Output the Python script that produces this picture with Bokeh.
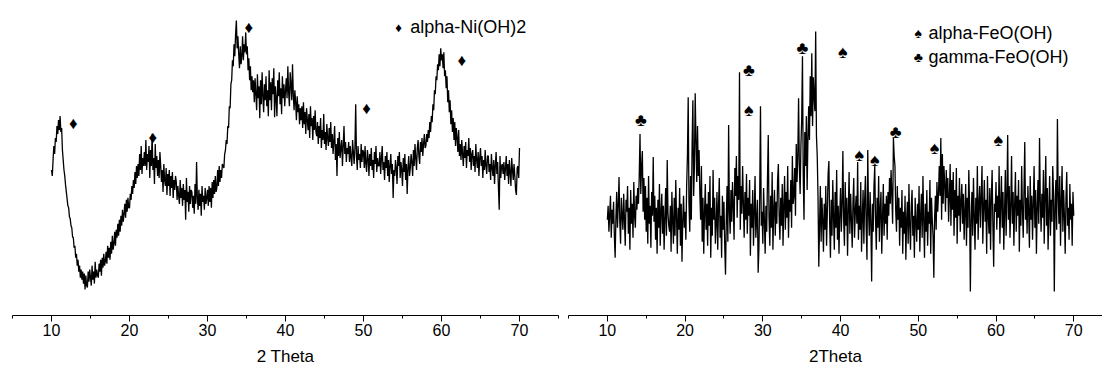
from bokeh.plotting import figure
from bokeh.models import Range1d, SingleIntervalTicker, ColumnDataSource, Label
from bokeh.layouts import row
from bokeh.embed import file_html
from bokeh.resources import INLINE
from bokeh.core.properties import value

FONT = "Liberation Sans"

# 2-theta scan grid (degrees)
two_theta_start = 10.0
two_theta_step = 0.1

# Left pattern: alpha-Ni(OH)2 sample (intensity, a.u.), 10.0 ... 70.0
ni_intensity = [
    146, 140, 156, 170, 162, 178, 174, 190, 182, 196, 186, 200, 184, 188, 166, 156, 146, 140, 131, 124,
    117, 110, 108, 99, 97, 90, 88, 79, 78, 68, 70, 58, 62, 50, 56, 44, 50, 38, 46, 36,
    44, 32, 42, 26, 40, 30, 28, 44, 34, 46, 38, 30, 50, 36, 44, 32, 54, 38, 46, 40,
    38, 52, 44, 56, 40, 58, 48, 62, 50, 54, 64, 52, 70, 58, 68, 56, 74, 62, 80, 66,
    72, 84, 70, 86, 78, 92, 80, 96, 84, 100, 90, 106, 94, 102, 112, 98, 116, 104, 118, 108,
    108, 122, 116, 130, 122, 136, 128, 144, 132, 150, 138, 152, 140, 162, 146, 170, 142, 158, 150, 164,
    150, 176, 146, 162, 154, 170, 138, 166, 150, 182, 146, 158, 132, 172, 148, 160, 140, 156, 138, 164,
    150, 134, 146, 124, 152, 136, 130, 148, 121, 142, 130, 146, 120, 140, 128, 144, 118, 136, 126, 140,
    134, 116, 130, 120, 112, 136, 118, 128, 110, 132, 116, 126, 96, 138, 114, 124, 104, 130, 112, 126,
    124, 108, 120, 102, 132, 112, 154, 118, 106, 126, 110, 122, 100, 130, 114, 120, 106, 128, 112, 118,
    126, 110, 130, 114, 128, 108, 134, 118, 136, 122, 140, 124, 128, 146, 130, 150, 134, 146, 138, 152,
    150, 148, 162, 166, 176, 172, 190, 188, 210, 208, 232, 236, 256, 250, 272, 260, 282, 296, 268, 280,
    262, 248, 270, 252, 260, 280, 256, 272, 264, 284, 262, 270, 246, 258, 236, 250, 226, 240, 224, 236,
    214, 238, 222, 206, 242, 218, 230, 198, 236, 212, 244, 220, 204, 232, 216, 240, 210, 226, 200, 246,
    216, 234, 206, 238, 222, 248, 199, 230, 218, 200, 236, 220, 244, 212, 228, 202, 240, 218, 232, 210,
    226, 238, 218, 250, 224, 210, 244, 232, 216, 252, 222, 206, 226, 214, 196, 220, 204, 212, 192, 208,
    196, 210, 188, 214, 192, 204, 182, 208, 196, 186, 202, 178, 210, 190, 198, 176, 200, 186, 206, 184,
    180, 194, 172, 190, 178, 198, 168, 186, 176, 202, 172, 184, 166, 192, 178, 170, 188, 174, 194, 168,
    182, 162, 176, 190, 156, 172, 140, 178, 160, 184, 158, 168, 176, 150, 170, 190, 162, 174, 154, 168,
    162, 174, 154, 170, 158, 150, 176, 164, 152, 168, 212, 160, 146, 170, 156, 162, 148, 172, 154, 166,
    164, 148, 170, 152, 144, 166, 158, 140, 162, 150, 168, 146, 156, 138, 164, 152, 170, 144, 158, 150,
    150, 164, 142, 158, 170, 146, 154, 136, 160, 148, 164, 140, 156, 134, 150, 162, 142, 152, 118, 146,
    140, 156, 148, 132, 160, 150, 164, 138, 154, 146, 130, 158, 144, 162, 136, 152, 122, 148, 160, 140,
    148, 162, 154, 140, 166, 150, 172, 158, 146, 168, 176, 160, 152, 174, 164, 178, 160, 172, 182, 168,
    170, 182, 174, 186, 178, 194, 184, 200, 194, 212, 206, 226, 222, 240, 236, 252, 246, 262, 250, 268,
    256, 262, 248, 264, 240, 246, 228, 240, 214, 226, 204, 216, 192, 206, 184, 198, 176, 194, 170, 188,
    178, 164, 186, 160, 172, 156, 176, 162, 150, 170, 158, 174, 148, 166, 160, 178, 154, 168, 146, 162,
    166, 150, 160, 144, 172, 156, 148, 164, 140, 158, 168, 150, 160, 138, 156, 146, 166, 150, 142, 160,
    160, 144, 152, 136, 162, 148, 140, 156, 132, 150, 164, 142, 154, 128, 106, 160, 138, 150, 152, 142,
    154, 136, 148, 160, 140, 152, 132, 156, 144, 130, 158, 146, 136, 152, 140, 126, 121, 148, 150, 138,
    168,
]

# Right pattern: FeO(OH) sample (intensity, a.u.), 10.0 ... 70.0
fe_intensity = [
    96, 110, 84, 102, 120, 78, 106, 92, 114, 80, 58, 98, 124, 88, 110, 139, 94, 72, 118, 100,
    86, 122, 96, 70, 116, 104, 130, 82, 108, 66, 126, 92, 112, 78, 134, 100, 88, 120, 106, 128,
    112, 140, 182, 122, 150, 165, 104, 138, 96, 130, 84, 118, 72, 140, 92, 110, 68, 124, 100, 159,
    94, 120, 76, 108, 62, 116, 88, 132, 70, 104, 122, 82, 110, 66, 98, 128, 80, 156, 102, 90,
    84, 110, 64, 124, 96, 72, 118, 80, 136, 98, 62, 108, 86, 128, 70, 112, 54, 96, 120, 88,
    104, 76, 130, 160, 219, 112, 84, 140, 96, 170, 216, 120, 150, 223, 176, 134, 190, 140, 166, 122,
    96, 150, 74, 118, 62, 104, 132, 86, 112, 70, 124, 90, 140, 58, 108, 80, 146, 96, 118, 72,
    92, 124, 66, 110, 138, 78, 100, 58, 120, 86, 114, 70, 41, 96, 130, 74, 191, 104, 82, 126,
    94, 134, 110, 76, 148, 120, 160, 98, 140, 116, 244, 86, 130, 102, 150, 112, 78, 124, 96, 142,
    82, 118, 100, 136, 60, 112, 88, 126, 70, 104, 140, 78, 96, 116, 43, 68, 122, 210, 90, 104,
    72, 128, 96, 62, 110, 84, 138, 181, 98, 70, 120, 88, 144, 66, 106, 126, 80, 114, 92, 136,
    152, 100, 76, 118, 90, 132, 70, 110, 140, 86, 124, 98, 150, 78, 116, 104, 136, 88, 160, 112,
    120, 148, 100, 172, 134, 160, 218, 150, 122, 170, 196, 260, 140, 96, 184, 150, 200, 126, 176, 210,
    176, 240, 200, 263, 190, 239, 220, 205, 285, 180, 160, 120, 49, 92, 130, 74, 118, 96, 64, 112,
    86, 130, 70, 104, 142, 155, 92, 58, 116, 80, 136, 98, 66, 124, 88, 146, 76, 110, 62, 102,
    128, 84, 112, 165, 96, 70, 134, 90, 118, 60, 106, 144, 82, 122, 96, 68, 114, 138, 78, 104,
    120, 92, 154, 76, 110, 86, 134, 64, 98, 126, 72, 116, 140, 88, 56, 166, 104, 80, 124, 94,
    34, 112, 84, 130, 150, 96, 66, 118, 88, 140, 74, 106, 124, 62, 98, 132, 80, 112, 92, 120,
    76, 124, 100, 138, 112, 146, 120, 92, 178, 160, 150, 104, 84, 130, 96, 118, 70, 108, 88, 126,
    62, 104, 82, 120, 56, 96, 114, 72, 132, 90, 66, 110, 126, 80, 100, 58, 118, 94, 74, 112,
    86, 130, 64, 100, 122, 78, 140, 96, 58, 112, 84, 126, 70, 104, 92, 136, 62, 118, 96, 80,
    38, 98, 120, 86, 134, 104, 122, 150, 120, 178, 96, 162, 112, 150, 132, 104, 146, 118, 138, 94,
    118, 152, 90, 136, 106, 144, 80, 126, 98, 148, 72, 120, 100, 138, 84, 114, 132, 92, 122, 76,
    104, 132, 70, 118, 88, 146, 110, 24, 96, 124, 80, 138, 100, 66, 118, 92, 150, 76, 112, 130,
    88, 120, 150, 72, 108, 136, 94, 116, 62, 140, 100, 82, 128, 66, 118, 146, 90, 49, 112, 104,
    134, 86, 120, 98, 150, 72, 112, 140, 88, 124, 66, 104, 146, 80, 118, 181, 96, 130, 78, 110,
    160, 92, 124, 70, 112, 144, 84, 120, 100, 136, 64, 116, 90, 150, 106, 78, 126, 174, 96, 118,
    82, 130, 104, 68, 140, 96, 120, 76, 112, 150, 88, 126, 62, 108, 136, 92, 178, 114, 84, 122,
    98, 146, 72, 118, 160, 90, 128, 66, 104, 140, 80, 116, 94, 150, 122, 24, 110, 136, 86, 197,
    120, 92, 140, 70, 114, 150, 84, 126, 100, 62, 118, 144, 90, 108, 76, 132, 96, 112, 70, 124,
    100,
]

# Peak assignments (2-theta, marker height)
ni_peak_theta = [12.8, 23.0, 35.3, 50.4, 62.6]
ni_peak_height = [193, 179, 289, 208, 256]
alpha_fe_theta = [28.2, 40.3, 42.4, 44.4, 52.1, 60.3]
alpha_fe_height = [206, 264, 161, 156, 168, 176]
gamma_fe_theta = [14.3, 28.2, 35.1, 47.1]
gamma_fe_height = [196, 246, 268, 184]

tick_interval = 10
left_title = "2 Theta"
right_title = "2Theta"


def grid(n):
    return [round(two_theta_start + two_theta_step * i, 2) for i in range(n)]


def make_fig(width, min_left, min_right, x_end, title):
    p = figure(width=width, height=368, output_backend="svg", toolbar_location=None,
               x_range=Range1d(5, x_end), y_range=Range1d(0, 316),
               y_axis_location=None,
               min_border_left=min_left, min_border_right=min_right,
               min_border_top=0, min_border_bottom=0)
    p.outline_line_color = None
    p.xgrid.visible = False
    p.ygrid.visible = False
    p.background_fill_color = "white"
    p.border_fill_color = "white"
    ax = p.xaxis[0]
    ax.ticker = SingleIntervalTicker(interval=tick_interval, num_minor_ticks=2)
    ax.axis_line_color = "black"
    ax.axis_line_width = 1
    ax.major_tick_line_color = "black"
    ax.minor_tick_line_color = "black"
    ax.major_tick_in = 0
    ax.major_tick_out = 6
    ax.minor_tick_in = 0
    ax.minor_tick_out = 3
    ax.major_label_standoff = 2
    ax.major_label_text_font = FONT
    ax.major_label_text_font_size = "16px"
    ax.major_label_text_color = "black"
    ax.axis_label = title
    ax.axis_label_text_font = FONT
    ax.axis_label_text_font_size = "17px"
    ax.axis_label_text_font_style = "normal"
    ax.axis_label_text_color = "black"
    ax.axis_label_standoff = 8
    return p


def markers(p, xs, ys, sym, size):
    src = ColumnDataSource(dict(x=xs, y=ys, t=[sym] * len(xs)))
    p.text(x="x", y="y", text="t", source=src, text_font=value(FONT),
           text_font_size=size, text_align="center", text_baseline="middle",
           text_color="black")


# Left panel
p1 = make_fig(566, 12, 8, 75, left_title)
src1 = ColumnDataSource(dict(x=grid(len(ni_intensity)), y=ni_intensity))
p1.line("x", "y", source=src1, line_color="black", line_width=1.3)
markers(p1, ni_peak_theta, ni_peak_height, "\u2666", "17px")
p1.add_layout(Label(x=54.5, y=289, text="\u2666", text_font=FONT, text_font_size="13px",
                    text_align="center", text_baseline="middle", text_color="black"))
p1.add_layout(Label(x=56.0, y=289, text="alpha-Ni(OH)2", text_font=FONT,
                    text_font_size="18px", text_baseline="middle", text_color="black"))

# Right panel
p2 = make_fig(536, 2, 0, 73.7, right_title)
src2 = ColumnDataSource(dict(x=grid(len(fe_intensity)), y=fe_intensity))
p2.line("x", "y", source=src2, line_color="black", line_width=1.3)
markers(p2, alpha_fe_theta, alpha_fe_height, "\u2660", "18px")
markers(p2, gamma_fe_theta, gamma_fe_height, "\u2663", "18px")
p2.add_layout(Label(x=50.0, y=283, text="\u2660", text_font=FONT, text_font_size="14px",
                    text_align="center", text_baseline="middle", text_color="black"))
p2.add_layout(Label(x=50.0, y=259, text="\u2663", text_font=FONT, text_font_size="14px",
                    text_align="center", text_baseline="middle", text_color="black"))
p2.add_layout(Label(x=51.3, y=283, text="alpha-FeO(OH)", text_font=FONT,
                    text_font_size="18px", text_baseline="middle", text_color="black"))
p2.add_layout(Label(x=51.3, y=259, text="gamma-FeO(OH)", text_font=FONT,
                    text_font_size="18px", text_baseline="middle", text_color="black"))

layout = row(p1, p2)
open("out.html", "w").write(file_html(layout, INLINE))
